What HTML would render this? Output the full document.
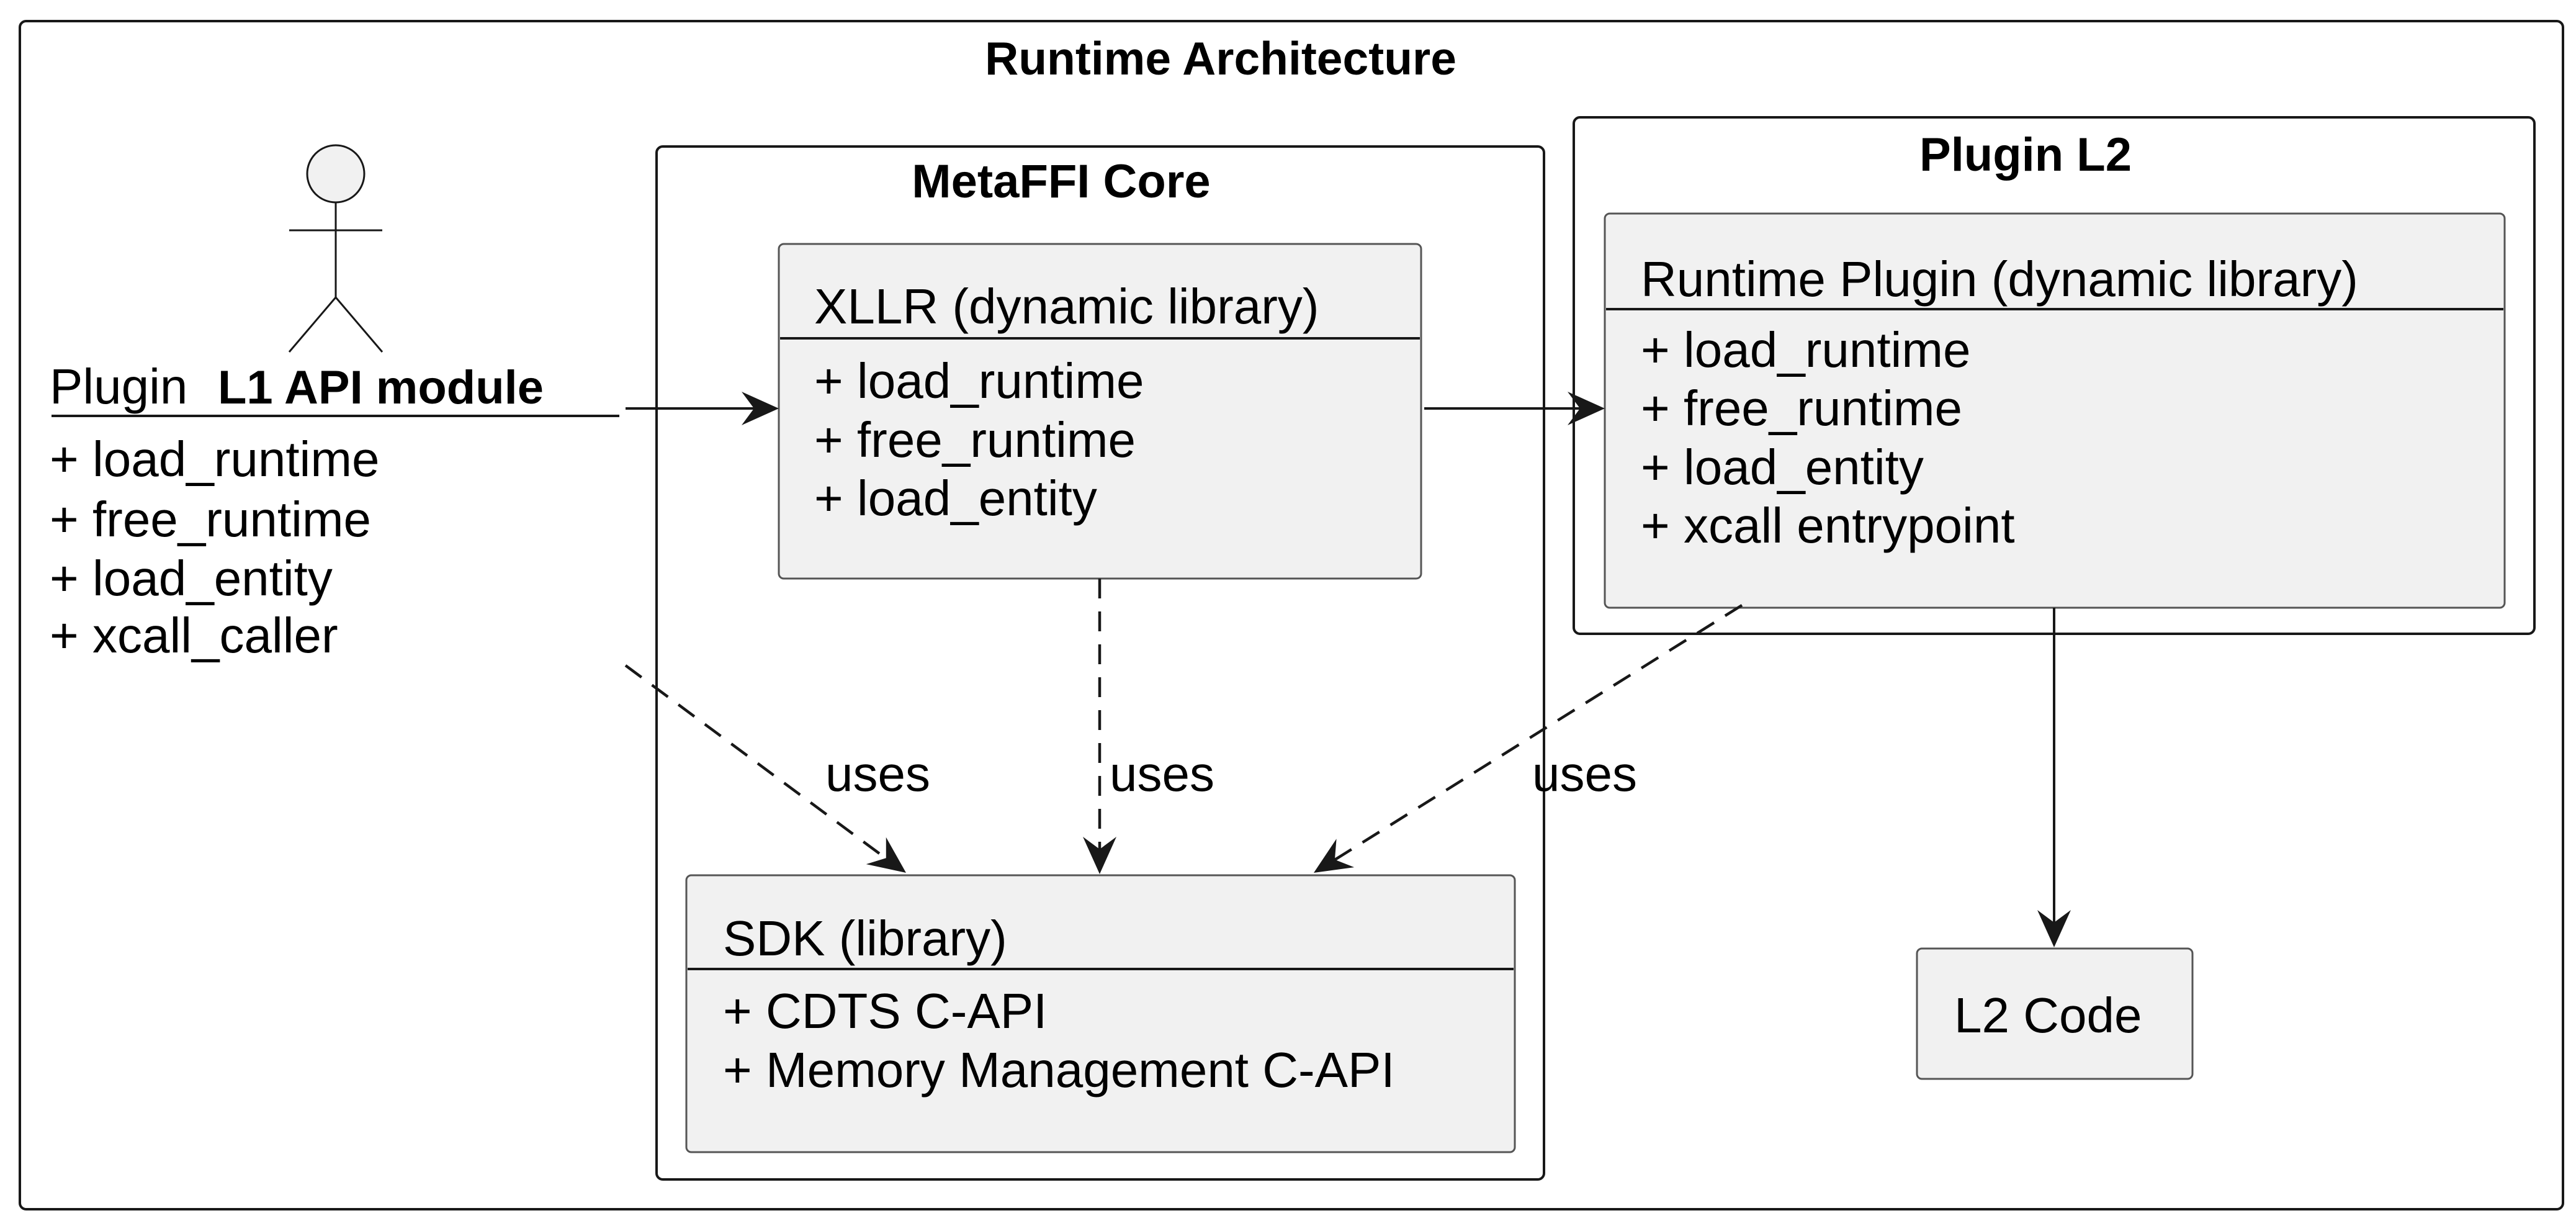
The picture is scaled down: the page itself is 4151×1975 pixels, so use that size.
<!DOCTYPE html>
<html><head><meta charset="utf-8"><style>
html,body{margin:0;padding:0;background:#fff}
svg{display:block}
text{font-family:"Liberation Sans",Arial,sans-serif;fill:#000}
.b{font-weight:bold;font-size:76px}
.r{font-size:80px}
</style></head><body>
<svg width="4151" height="1975" viewBox="0 0 4151 1975" xmlns="http://www.w3.org/2000/svg">
<rect x="0" y="0" width="4151" height="1975" fill="#fff"/>
<rect x="32" y="34" width="4098" height="1914" rx="10" fill="none" stroke="#181818" stroke-width="4"/>
<text class="b" x="1967" y="120" text-anchor="middle" style="font-size:75px">Runtime Architecture</text>

<rect x="1058" y="236" width="1430" height="1664" rx="10" fill="none" stroke="#181818" stroke-width="4"/>
<text class="b" x="1710" y="318" text-anchor="middle">MetaFFI Core</text>

<rect x="2536" y="189" width="1548" height="832" rx="10" fill="none" stroke="#181818" stroke-width="4"/>
<text class="b" x="3264" y="275" text-anchor="middle">Plugin L2</text>

<rect x="1255" y="393" width="1035" height="539" rx="8" fill="#f1f1f1" stroke="#555" stroke-width="3"/>
<text class="r" x="1312" y="521">XLLR (dynamic library)</text>
<line x1="1257" y1="545" x2="2288" y2="545" stroke="#181818" stroke-width="4"/>
<text class="r" x="1312" y="641">+ load_runtime</text>
<text class="r" x="1312" y="736">+ free_runtime</text>
<text class="r" x="1312" y="830">+ load_entity</text>

<rect x="1106" y="1410" width="1335" height="446" rx="8" fill="#f1f1f1" stroke="#555" stroke-width="3"/>
<text class="r" x="1165" y="1539">SDK (library)</text>
<line x1="1108" y1="1561" x2="2439" y2="1561" stroke="#181818" stroke-width="4"/>
<text class="r" x="1165" y="1656">+ CDTS C-API</text>
<text class="r" x="1165" y="1751">+ Memory Management C-API</text>

<rect x="2586" y="344" width="1450" height="635" rx="8" fill="#f1f1f1" stroke="#555" stroke-width="3"/>
<text class="r" x="2644" y="477">Runtime Plugin (dynamic library)</text>
<line x1="2588" y1="498" x2="4034" y2="498" stroke="#181818" stroke-width="4"/>
<text class="r" x="2644" y="591">+ load_runtime</text>
<text class="r" x="2644" y="685">+ free_runtime</text>
<text class="r" x="2644" y="780">+ load_entity</text>
<text class="r" x="2644" y="874">+ xcall entrypoint</text>

<rect x="3089" y="1528" width="444" height="210" rx="8" fill="#f1f1f1" stroke="#555" stroke-width="3"/>
<text class="r" x="3149" y="1663">L2 Code</text>

<g fill="none" stroke="#181818" stroke-width="3">
<circle cx="541" cy="280" r="46" fill="#f1f1f1"/>
<line x1="541" y1="326" x2="541" y2="479"/>
<line x1="466" y1="371" x2="616" y2="371"/>
<line x1="541" y1="479" x2="466" y2="567"/>
<line x1="541" y1="479" x2="616" y2="567"/>
</g>
<text class="r" x="80" y="650">Plugin</text>
<text class="b" x="351" y="650">L1 API module</text>
<line x1="83" y1="670" x2="998" y2="670" stroke="#181818" stroke-width="4"/>
<text class="r" x="80" y="767">+ load_runtime</text>
<text class="r" x="80" y="864">+ free_runtime</text>
<text class="r" x="80" y="959">+ load_entity</text>
<text class="r" x="80" y="1051">+ xcall_caller</text>

<g stroke="#181818" stroke-width="4" fill="none">
<line x1="1008" y1="658" x2="1240" y2="658"/>
<line x1="2295" y1="658" x2="2570" y2="658"/>
<line x1="3310" y1="979" x2="3310" y2="1500"/>
<g stroke-dasharray="32,21" stroke-width="4.5">
<line x1="1008" y1="1072" x2="1440" y2="1392"/>
<line x1="1772" y1="932" x2="1772" y2="1385"/>
<line x1="2807" y1="975" x2="2135" y2="1395"/>
</g>
</g>
<g fill="#181818">
<polygon points="1255,658 1195,631 1215,658 1195,685"/>
<polygon points="2586,658 2526,631 2546,658 2526,685"/>
<polygon points="1772,1408 1745,1348 1772,1368 1799,1348"/>
<polygon points="3310,1526 3283,1466 3310,1486 3337,1466"/>
<polygon points="1460,1406 1395.8,1392.1 1427.8,1382.2 1427.8,1348.7"/>
<polygon points="2117,1406 2153.6,1351.3 2150.9,1384.8 2182.2,1397.1"/>
</g>
<text class="r" x="1330" y="1274">uses</text>
<text class="r" x="1788" y="1274">uses</text>
<text class="r" x="2469" y="1274">uses</text>
</svg>
</body></html>
